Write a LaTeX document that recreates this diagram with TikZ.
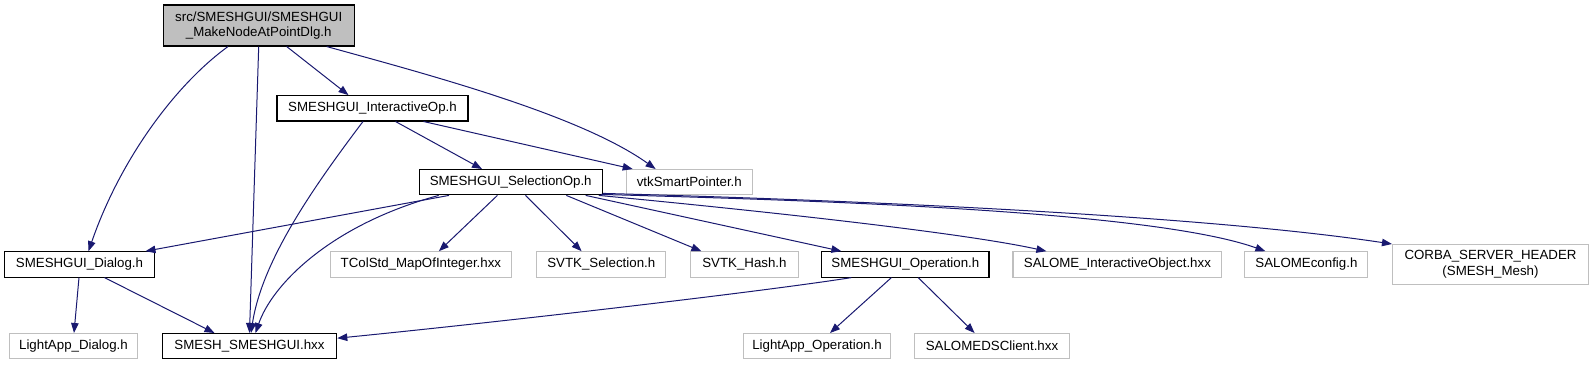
\documentclass[tikz,border=0pt]{standalone}
\usepackage{fontspec}
\setmainfont{Liberation Sans}
\usetikzlibrary{arrows.meta}
\definecolor{edgec}{HTML}{191970}
\definecolor{extb}{HTML}{BFBFBF}
\definecolor{topf}{HTML}{BFBFBF}
\begin{document}
\begin{tikzpicture}[x=1pt,y=-1pt,
  box/.style={draw=black, line width=1.1pt, inner sep=0pt, minimum height=25.3pt, align=center, font=\fontsize{13.3}{15.5}\selectfont, fill=white},
  ext/.style={box, draw=extb},
  dep/.style={draw=edgec, line width=1pt, -{Triangle[length=10pt,width=7.5pt]}}]
\fill[white] (0,0) rectangle (1594,365);
\useasboundingbox (0,0) rectangle (1594,365);
\node[box, fill=topf, minimum width=190.8pt, minimum height=41pt] (top) at (258.7,25.5) {src/SMESHGUI/SMESHGUI\\\_MakeNodeAtPointDlg.h};
\node[box, minimum width=191pt] (iop) at (372.5,108.3) {SMESHGUI\_InteractiveOp.h};
\node[box, minimum width=183pt] (sel) at (510.7,182.2) {SMESHGUI\_SelectionOp.h};
\node[ext, minimum width=126.5pt] (vtk) at (689.3,182.2) {vtkSmartPointer.h};
\node[box, minimum width=150pt] (dlg) at (79.5,264.4) {SMESHGUI\_Dialog.h};
\node[ext, minimum width=180.6pt] (tcol) at (420.9,264.4) {TColStd\_MapOfInteger.hxx};
\node[ext, minimum width=129pt] (svsel) at (601.3,264.4) {SVTK\_Selection.h};
\node[ext, minimum width=108pt] (hash) at (744.4,264.4) {SVTK\_Hash.h};
\node[box, minimum width=167.2pt] (op) at (905.4,264.4) {SMESHGUI\_Operation.h};
\node[ext, minimum width=208.8pt] (sio) at (1117.4,264.4) {SALOME\_InteractiveObject.hxx};
\node[ext, minimum width=123pt] (scfg) at (1306.4,264.4) {SALOMEconfig.h};
\node[ext, minimum width=196pt, minimum height=39.5pt] (corba) at (1490.5,264.3) {CORBA\_SERVER\_HEADER\\(SMESH\_Mesh)};
\node[ext, minimum width=128.6pt] (lad) at (73.5,346.2) {LightApp\_Dialog.h};
\node[box, minimum width=174.5pt] (smesh) at (249.5,346.2) {SMESH\_SMESHGUI.hxx};
\node[ext, minimum width=147.4pt] (lao) at (817,346.2) {LightApp\_Operation.h};
\node[ext, minimum width=155pt] (sdsc) at (992,346.2) {SALOMEDSClient.hxx};
% edges
\draw[dep] ([xshift=-30.7pt]top.south) .. controls (175,85) and (120,160) .. ([xshift=9pt]dlg.north);
\draw[dep] (top.south) -- ([xshift=0pt]smesh.north);
\draw[dep] ([xshift=28pt]top.south) -- ([xshift=-24pt]iop.north);
\draw[dep] ([xshift=68pt]top.south) .. controls (430,75) and (580,115) .. ([xshift=-33.7pt]vtk.north);
\draw[dep] ([xshift=-9.5pt]iop.south) .. controls (315,185) and (262,260) .. ([xshift=1.5pt]smesh.north);
\draw[dep] ([xshift=23pt]iop.south) -- ([xshift=-28.7pt]sel.north);
\draw[dep] ([xshift=51pt]iop.south) -- ([xshift=-56.6pt]vtk.north);
\draw[dep] ([xshift=-61.7pt]sel.south) -- ([xshift=66pt]dlg.north);
\draw[dep] ([xshift=-72pt]sel.south) .. controls (330,225) and (272,285) .. ([xshift=6pt]smesh.north);
\draw[dep] ([xshift=-13.3pt]sel.south) -- ([xshift=18pt]tcol.north);
\draw[dep] ([xshift=14.8pt]sel.south) -- ([xshift=-19.7pt]svsel.north);
\draw[dep] ([xshift=55.6pt]sel.south) -- ([xshift=-43pt]hash.north);
\draw[dep] ([xshift=75pt]sel.south) -- ([xshift=-64pt]op.north);
\draw[dep] ([xshift=-4pt]sel.south east) .. controls (700,205) and (950,230) .. ([xshift=-71pt]sio.north);
\draw[dep] ([xshift=-2pt,yshift=1pt]sel.south east) .. controls (800,200) and (1150,210) .. ([xshift=-41pt]scfg.north);
\draw[dep] ([yshift=2pt]sel.south east) .. controls (850,200) and (1200,215) .. (corba.north west);
\draw[dep] ([xshift=-0.5pt]dlg.south) -- ([xshift=0.5pt]lad.north);
\draw[dep] ([xshift=25pt]dlg.south) -- ([xshift=-35pt]smesh.north);
\draw[dep] ([xshift=-54pt]op.south) .. controls (760,292) and (500,322) .. ([yshift=8pt]smesh.east);
\draw[dep] ([xshift=-14pt]op.south) -- ([xshift=13pt]lao.north);
\draw[dep] ([xshift=12.8pt]op.south) -- ([xshift=-17.4pt]sdsc.north);
\end{tikzpicture}
\end{document}
